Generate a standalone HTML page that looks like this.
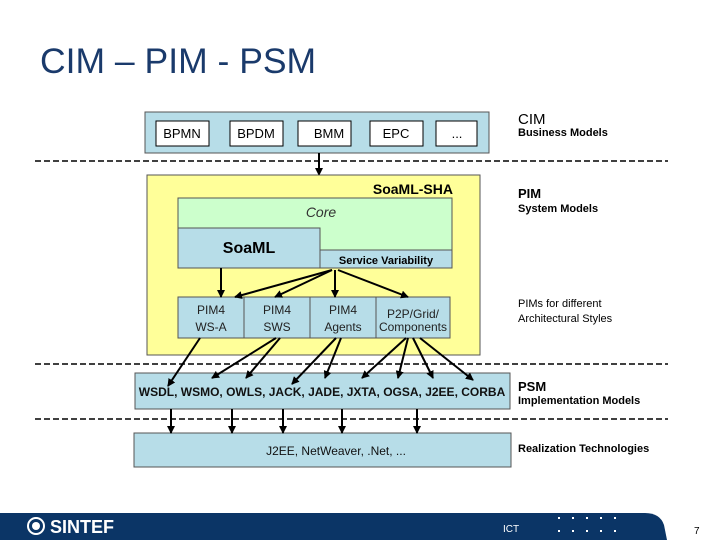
<!DOCTYPE html>
<html><head><style>
body{margin:0;width:720px;height:540px;background:#fff;position:relative;overflow:hidden;font-family:"Liberation Sans",sans-serif}
.a{position:absolute}
</style></head><body>
<svg class="a" style="left:0;top:0" width="720" height="540" font-family="Liberation Sans, sans-serif">
<defs><marker id="m" markerWidth="8" markerHeight="8" refX="7" refY="4" orient="auto" markerUnits="userSpaceOnUse"><path d="M0,0L8,4L0,8z" fill="#000"/></marker></defs>
<text x="40" y="73" font-size="35.5" fill="#1a3a6b">CIM – PIM - PSM</text>
<rect x="145" y="112" width="344" height="41" fill="#b7dde8" stroke="#555"/>
<g fill="#fff" stroke="#000"><rect x="156" y="121" width="53" height="25"/><rect x="230" y="121" width="53" height="25"/><rect x="298" y="121" width="53" height="25"/><rect x="370" y="121" width="53" height="25"/><rect x="436" y="121" width="41" height="25"/></g>
<g font-size="13" text-anchor="middle"><text x="182" y="138">BPMN</text><text x="256" y="138">BPDM</text><text x="329" y="138">BMM</text><text x="396" y="138">EPC</text><text x="457" y="138">...</text></g>
<g stroke="#000" stroke-width="1.5" stroke-dasharray="6,3"><line x1="35" y1="161" x2="668" y2="161"/><line x1="35" y1="364" x2="668" y2="364"/><line x1="35" y1="419" x2="668" y2="419"/></g>
<line x1="319" y1="153" x2="319" y2="175" stroke="#000" stroke-width="2" marker-end="url(#m)"/>
<rect x="147" y="175" width="333" height="180" fill="#ffff99" stroke="#555"/>
<text x="453" y="194" font-size="14" font-weight="bold" text-anchor="end">SoaML-SHA</text>
<rect x="178" y="198" width="274" height="70" fill="#ccffcc" stroke="#555"/>
<text x="321" y="217" font-size="14" font-style="italic" fill="#333" text-anchor="middle">Core</text>
<rect x="178" y="228" width="142" height="40" fill="#b7dde8" stroke="#555"/>
<rect x="320" y="250" width="132" height="18" fill="#b7dde8" stroke="#555"/>
<text x="249" y="253" font-size="16" font-weight="bold" text-anchor="middle">SoaML</text>
<text x="386" y="264" font-size="11" font-weight="bold" text-anchor="middle">Service Variability</text>
<g fill="#b7dde8" stroke="#555"><rect x="178" y="297" width="66" height="41"/><rect x="244" y="297" width="66" height="41"/><rect x="310" y="297" width="66" height="41"/><rect x="376" y="297" width="74" height="41"/></g>
<g font-size="12" text-anchor="middle" fill="#222"><text x="211" y="314">PIM4</text><text x="211" y="331">WS-A</text><text x="277" y="314">PIM4</text><text x="277" y="331">SWS</text><text x="343" y="314">PIM4</text><text x="343" y="331">Agents</text><text x="413" y="318">P2P/Grid/</text><text x="413" y="331">Components</text></g>
<rect x="135" y="373" width="375" height="36" fill="#b7dde8" stroke="#555"/>
<text x="322" y="396" font-size="12" font-weight="bold" text-anchor="middle" fill="#111">WSDL, WSMO, OWLS, JACK, JADE, JXTA, OGSA, J2EE, CORBA</text>
<rect x="134" y="433" width="377" height="34" fill="#b7dde8" stroke="#555"/>
<text x="336" y="455" font-size="12" text-anchor="middle" fill="#111">J2EE, NetWeaver, .Net, ...</text>
<g stroke="#000" stroke-width="2" marker-end="url(#m)">
<line x1="221" y1="268" x2="221" y2="297"/><line x1="332" y1="270" x2="235" y2="297"/><line x1="332" y1="270" x2="275" y2="297"/><line x1="335" y1="270" x2="335" y2="297"/><line x1="338" y1="270" x2="408" y2="297"/>
<line x1="200" y1="338" x2="168" y2="386"/><line x1="276" y1="338" x2="212" y2="378"/><line x1="280" y1="338" x2="246" y2="378"/><line x1="336" y1="338" x2="292" y2="384"/><line x1="341" y1="338" x2="325" y2="378"/><line x1="406" y1="338" x2="362" y2="378"/><line x1="408" y1="338" x2="398" y2="378"/><line x1="413" y1="338" x2="433" y2="378"/><line x1="420" y1="338" x2="473" y2="380"/>
<line x1="171" y1="409" x2="171" y2="433"/><line x1="232" y1="409" x2="232" y2="433"/><line x1="283" y1="409" x2="283" y2="433"/><line x1="342" y1="409" x2="342" y2="433"/><line x1="417" y1="409" x2="417" y2="433"/>
</g>
<g font-size="11"><text x="518" y="124" font-size="15">CIM</text><text x="518" y="136" font-weight="bold">Business Models</text>
<text x="518" y="198" font-size="13" font-weight="bold">PIM</text><text x="518" y="212" font-weight="bold">System Models</text>
<text x="518" y="307">PIMs for different</text><text x="518" y="322">Architectural Styles</text>
<text x="518" y="391" font-size="13" font-weight="bold">PSM</text><text x="518" y="404" font-weight="bold">Implementation Models</text>
<text x="518" y="452" font-weight="bold">Realization Technologies</text></g>
<path d="M0,513H645Q660,513 664,525L667,540H0z" fill="#0b3566"/>
<circle cx="36" cy="526" r="8" fill="none" stroke="#fff" stroke-width="2"/><circle cx="36" cy="526" r="4" fill="#fff"/>
<text x="50" y="533" font-size="18" font-weight="bold" fill="#fff">SINTEF</text>
<text x="503" y="532" font-size="10" fill="#fff">ICT</text>
<g fill="#fff"><rect x="558" y="517" width="2" height="2"/><rect x="572" y="517" width="2" height="2"/><rect x="586" y="517" width="2" height="2"/><rect x="600" y="517" width="2" height="2"/><rect x="614" y="517" width="2" height="2"/><rect x="558" y="530" width="2" height="2"/><rect x="572" y="530" width="2" height="2"/><rect x="586" y="530" width="2" height="2"/><rect x="600" y="530" width="2" height="2"/><rect x="614" y="530" width="2" height="2"/></g>
<text x="694" y="534" font-size="10">7</text>
</svg>
</body></html>
